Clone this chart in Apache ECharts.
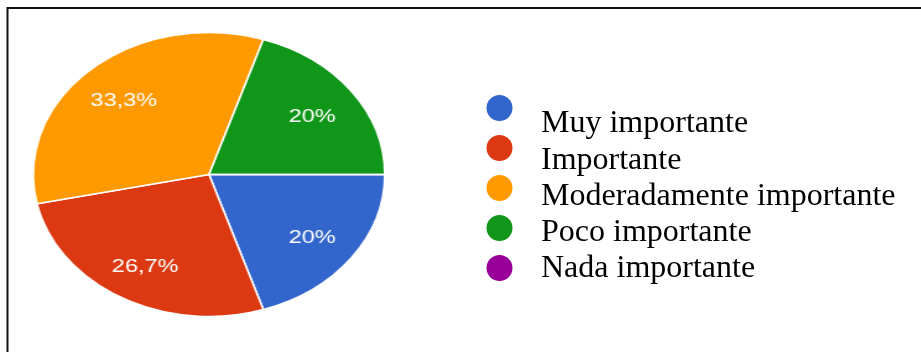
<!DOCTYPE html>
<html>
<head>
<meta charset="utf-8">
<script src="https://cdn.jsdelivr.net/npm/echarts@6/dist/echarts.min.js"></script>
<style>
  html, body { margin: 0; padding: 0; background: #ffffff; }
  #wrap { position: relative; width: 921px; height: 352px; overflow: hidden; background: #ffffff; }
  #pie { position: absolute; left: 0; top: 0; width: 744px; height: 352px; transform: scaleX(1.2378); transform-origin: 0 0; }
  #main { position: absolute; left: 0; top: 0; width: 921px; height: 352px; }
</style>
</head>
<body>
<div id="wrap">
  <div id="pie"></div>
  <div id="main"></div>
</div>
<script>
// ---- data ----
const categories = ['Muy importante', 'Importante', 'Moderadamente importante', 'Poco importante', 'Nada importante'];
const percentages = [20, 26.7, 33.3, 20, 0];
const colors = ['#3366cc', '#dc3912', '#ff9900', '#109618', '#990099'];

function fmt(v) { return String(v).replace('.', ','); }

const sliceData = categories.map((name, i) => ({
  name: name,
  value: percentages[i],
  itemStyle: { color: colors[i] }
}));
const labelData = categories.map((name, i) => ({
  name: name,
  value: percentages[i],
  label: { show: percentages[i] > 0 }
}));

// ---- pie (stretched horizontally like the reference) ----
const pieChart = echarts.init(document.getElementById('pie'), null, { renderer: 'canvas' });
pieChart.setOption({
  animation: false,
  backgroundColor: 'transparent',
  series: [
    {
      type: 'pie',
      center: [168.85, 174.5],
      radius: [0, 142],
      startAngle: 0,
      clockwise: true,
      silent: true,
      label: { show: false },
      labelLine: { show: false },
      itemStyle: { borderColor: '#ffffff', borderWidth: 1.5 },
      data: sliceData
    },
    {
      type: 'pie',
      center: [168.85, 174.5],
      radius: [0, 200],
      startAngle: 0,
      clockwise: true,
      silent: true,
      itemStyle: { color: 'rgba(0,0,0,0)' },
      label: {
        position: 'inside',
        color: '#ffffff',
        fontFamily: 'Liberation Sans, Arial, sans-serif',
        fontSize: 19,
        offset: [0, 3],
        formatter: p => fmt(p.value) + '%'
      },
      labelLine: { show: false },
      data: labelData
    }
  ]
});

// ---- legend + frame ----
const chart = echarts.init(document.getElementById('main'), null, { renderer: 'canvas' });
chart.setOption({
  animation: false,
  backgroundColor: 'transparent',
  color: colors,
  legend: [
    {
      orient: 'vertical',
      left: 481,
      top: 90,
      icon: 'circle',
      itemWidth: 27,
      itemHeight: 26,
      itemGap: 14,
      selectedMode: false,
      formatter: () => '',
      textStyle: { fontSize: 1 },
      data: categories
    },
    {
      orient: 'vertical',
      left: 531,
      top: 103,
      icon: 'circle',
      itemWidth: 0,
      itemHeight: 30,
      itemGap: 4.25,
      selectedMode: false,
      itemStyle: { opacity: 0 },
      textStyle: {
        fontFamily: 'Liberation Serif, Times New Roman, serif',
        fontSize: 32,
        color: '#000000',
        lineHeight: 30
      },
      data: categories
    }
  ],
  graphic: [
    {
      type: 'polyline',
      shape: { points: [[7.5, 352], [7.5, 8], [921, 8]] },
      style: { stroke: '#111111', lineWidth: 2, fill: null }
    }
  ],
  series: [
    {
      type: 'pie',
      radius: [0, 0],
      center: [-100, -100],
      silent: true,
      label: { show: false },
      labelLine: { show: false },
      data: sliceData
    }
  ]
});
</script>
</body>
</html>
